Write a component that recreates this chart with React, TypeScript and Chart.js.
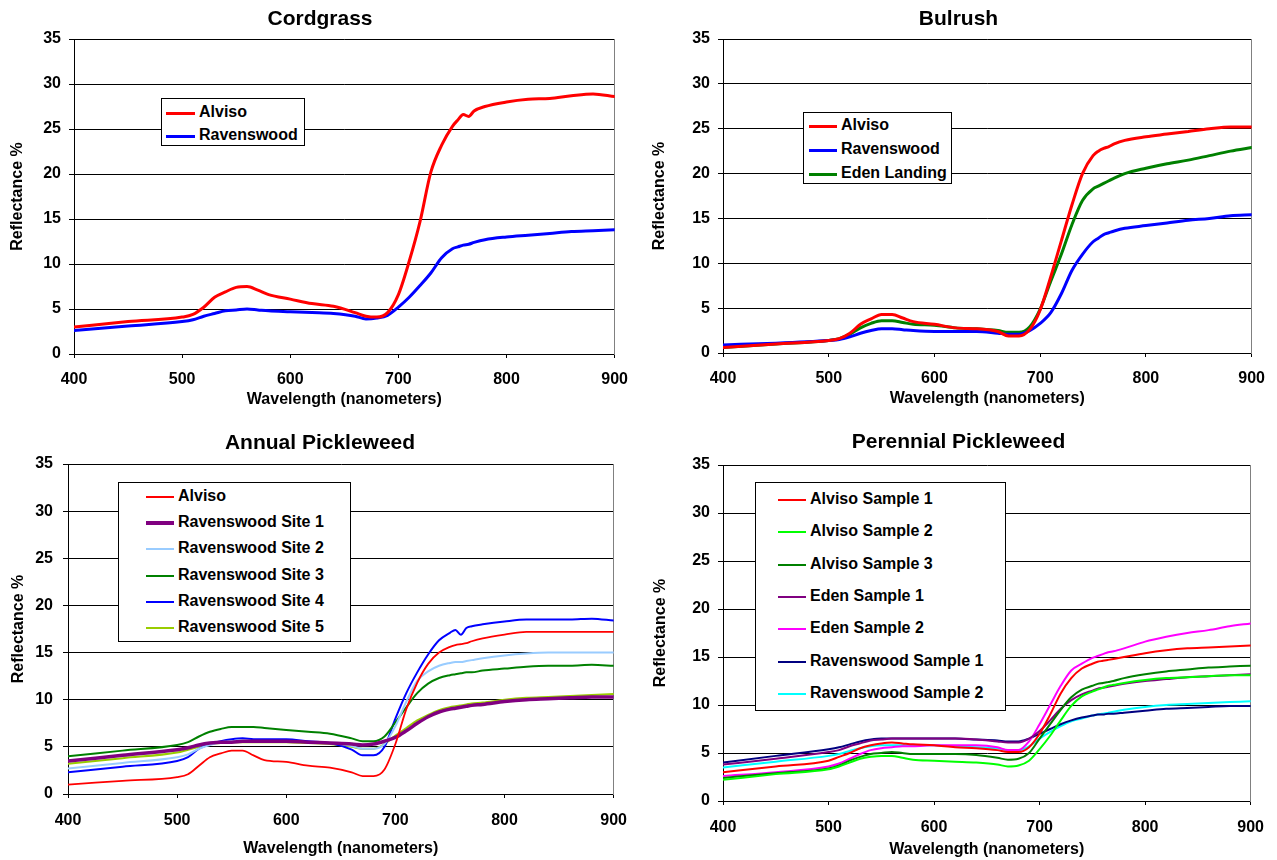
import React, { useEffect, useRef } from 'react';
import { Chart, registerables } from 'chart.js';

Chart.register(...registerables);

const FONT = "'Liberation Sans', Arial, Helvetica, sans-serif";

// Shared wavelength grid (nm)
const wavelengths = [400, 450, 500, 510, 520, 530, 540, 550, 560, 570, 580, 600, 620, 640, 660, 670, 680, 690, 700, 710, 720, 730, 740, 750, 755, 760, 765, 770, 780, 800, 820, 840, 860, 880, 900];

// Cordgrass
const cordAlviso = [3.0, 3.6, 4.1, 4.4, 5.2, 6.3, 6.9, 7.4, 7.5, 7.1, 6.6, 6.1, 5.6, 5.3, 4.6, 4.2, 4.1, 4.6, 6.6, 10.3, 14.7, 20.2, 23.2, 25.3, 26.0, 26.6, 26.4, 27.0, 27.5, 28.0, 28.3, 28.4, 28.7, 28.9, 28.6];
const cordRavenswood = [2.6, 3.1, 3.6, 3.8, 4.2, 4.5, 4.8, 4.9, 5.0, 4.9, 4.8, 4.7, 4.6, 4.5, 4.2, 3.9, 4.0, 4.3, 5.2, 6.3, 7.6, 9.0, 10.7, 11.7, 11.9, 12.1, 12.2, 12.4, 12.7, 13.0, 13.2, 13.4, 13.6, 13.7, 13.8];

// Bulrush
const bulAlviso = [0.6, 1.0, 1.4, 1.6, 2.2, 3.2, 3.8, 4.3, 4.3, 3.9, 3.5, 3.2, 2.8, 2.7, 2.4, 1.9, 1.9, 2.6, 4.8, 8.5, 12.5, 16.5, 20.0, 22.0, 22.5, 22.8, 23.0, 23.3, 23.7, 24.1, 24.4, 24.7, 25.0, 25.2, 25.2];
const bulRavenswood = [0.9, 1.1, 1.4, 1.5, 1.8, 2.2, 2.5, 2.7, 2.7, 2.6, 2.5, 2.4, 2.4, 2.4, 2.2, 2.1, 2.1, 2.5, 3.3, 4.5, 6.6, 9.2, 11.0, 12.4, 12.8, 13.2, 13.4, 13.6, 13.9, 14.2, 14.5, 14.8, 15.0, 15.3, 15.4];
const bulEden = [0.6, 1.0, 1.4, 1.6, 2.1, 2.8, 3.3, 3.6, 3.6, 3.4, 3.2, 3.1, 2.8, 2.7, 2.5, 2.3, 2.3, 2.9, 4.9, 8.0, 11.0, 14.3, 17.0, 18.3, 18.6, 18.9, 19.2, 19.5, 20.0, 20.6, 21.1, 21.5, 22.0, 22.5, 22.9];

// Annual Pickleweed
const annAlviso = [1.0, 1.4, 1.8, 2.1, 3.0, 3.9, 4.3, 4.6, 4.6, 4.1, 3.6, 3.4, 3.0, 2.8, 2.3, 1.9, 1.9, 2.6, 5.3, 9.0, 11.8, 13.8, 15.0, 15.6, 15.8, 15.9, 16.0, 16.2, 16.5, 16.9, 17.2, 17.2, 17.2, 17.2, 17.2];
const annSite1 = [3.5, 4.1, 4.7, 4.9, 5.2, 5.4, 5.5, 5.5, 5.6, 5.6, 5.6, 5.6, 5.5, 5.4, 5.3, 5.2, 5.3, 5.6, 6.0, 6.7, 7.5, 8.2, 8.7, 9.0, 9.1, 9.2, 9.3, 9.4, 9.5, 9.8, 10.0, 10.1, 10.2, 10.3, 10.3];
const annSite2 = [2.7, 3.3, 3.9, 4.2, 4.8, 5.2, 5.5, 5.6, 5.7, 5.6, 5.6, 5.6, 5.5, 5.4, 5.1, 4.8, 4.8, 5.3, 7.2, 9.8, 12.0, 13.0, 13.6, 13.9, 14.0, 14.0, 14.1, 14.2, 14.4, 14.7, 14.9, 15.0, 15.0, 15.0, 15.0];
const annSite3 = [4.0, 4.6, 5.2, 5.5, 6.1, 6.6, 6.9, 7.1, 7.1, 7.1, 7.0, 6.8, 6.6, 6.4, 5.9, 5.6, 5.6, 6.1, 7.6, 9.2, 10.7, 11.7, 12.3, 12.6, 12.7, 12.8, 12.9, 12.9, 13.1, 13.3, 13.5, 13.6, 13.6, 13.7, 13.6];
const annSite4 = [2.3, 2.9, 3.5, 3.9, 4.8, 5.3, 5.6, 5.8, 5.9, 5.8, 5.8, 5.8, 5.6, 5.4, 4.7, 4.1, 4.1, 5.0, 8.0, 10.7, 12.9, 14.8, 16.3, 17.1, 17.4, 16.9, 17.6, 17.8, 18.0, 18.3, 18.5, 18.5, 18.5, 18.6, 18.4];
const annSite5 = [3.2, 3.8, 4.4, 4.7, 5.0, 5.3, 5.4, 5.5, 5.5, 5.5, 5.5, 5.5, 5.4, 5.3, 5.0, 4.8, 4.8, 5.3, 6.2, 7.0, 7.8, 8.4, 8.9, 9.2, 9.3, 9.4, 9.5, 9.6, 9.7, 10.0, 10.2, 10.3, 10.4, 10.5, 10.6];

// Perennial Pickleweed
const perAlviso1 = [3.0, 3.6, 4.2, 4.6, 5.0, 5.5, 5.8, 6.0, 6.1, 6.0, 5.9, 5.8, 5.6, 5.5, 5.3, 5.1, 5.1, 5.6, 7.0, 9.0, 11.2, 12.8, 13.8, 14.3, 14.5, 14.6, 14.7, 14.8, 15.0, 15.4, 15.7, 15.9, 16.0, 16.1, 16.2];
const perAlviso2 = [2.2, 2.8, 3.3, 3.6, 4.0, 4.4, 4.6, 4.7, 4.7, 4.5, 4.3, 4.2, 4.1, 4.0, 3.8, 3.6, 3.7, 4.2, 5.4, 6.8, 8.4, 9.9, 10.9, 11.4, 11.6, 11.8, 12.0, 12.1, 12.3, 12.6, 12.8, 12.9, 13.0, 13.1, 13.1];
const perAlviso3 = [2.4, 2.9, 3.4, 3.7, 4.2, 4.6, 4.9, 5.0, 5.1, 5.0, 4.9, 4.9, 4.9, 4.8, 4.5, 4.3, 4.4, 5.0, 6.5, 8.0, 9.5, 10.8, 11.6, 12.0, 12.2, 12.3, 12.4, 12.5, 12.8, 13.2, 13.5, 13.7, 13.9, 14.0, 14.1];
const perEden1 = [3.8, 4.4, 5.1, 5.3, 5.7, 6.0, 6.3, 6.4, 6.5, 6.5, 6.5, 6.5, 6.5, 6.4, 6.2, 6.1, 6.1, 6.5, 7.3, 8.4, 9.6, 10.5, 11.1, 11.5, 11.7, 11.8, 11.9, 12.0, 12.2, 12.5, 12.7, 12.9, 13.0, 13.1, 13.2];
const perEden2 = [2.6, 3.0, 3.6, 3.9, 4.4, 4.9, 5.3, 5.5, 5.6, 5.7, 5.7, 5.8, 5.8, 5.8, 5.6, 5.3, 5.3, 6.2, 8.0, 10.0, 12.0, 13.6, 14.3, 14.9, 15.1, 15.3, 15.5, 15.6, 15.9, 16.6, 17.1, 17.5, 17.8, 18.2, 18.5];
const perRaven1 = [4.0, 4.7, 5.4, 5.6, 5.9, 6.2, 6.4, 6.5, 6.5, 6.5, 6.5, 6.5, 6.5, 6.4, 6.3, 6.2, 6.2, 6.5, 7.0, 7.5, 8.0, 8.4, 8.7, 8.9, 9.0, 9.0, 9.1, 9.1, 9.2, 9.4, 9.6, 9.7, 9.8, 9.9, 9.9];
const perRaven2 = [3.5, 4.1, 4.7, 4.9, 5.2, 5.5, 5.7, 5.8, 5.8, 5.8, 5.8, 5.8, 5.7, 5.6, 5.5, 5.3, 5.3, 5.7, 6.5, 7.2, 7.8, 8.3, 8.6, 8.9, 9.0, 9.1, 9.2, 9.3, 9.5, 9.8, 10.0, 10.1, 10.2, 10.3, 10.4];

const xMin = 400;
const xMax = 900;
const xStep = 100;
const yMin = 0;
const yMax = 35;
const yStep = 5;
const xAxisTitle = 'Wavelength (nanometers)';
const yAxisTitle = 'Reflectance %';

type Series = { label: string; color: string; width: number; values: number[] };

type LegendCfg = {
  left: number; top: number; width: number; height: number;
  firstRow: number; rowGap: number; swatchLeft: number; swatchWidth: number; textLeft: number;
};

type ChartCfg = {
  title: string;
  box: { x: number; y: number; w: number; h: number };
  yWidth: number; rightWidth: number; xHeight: number; padBottom: number;
  titlePad: { top: number; bottom: number };
  yTitlePad: number; xTickPad: number; yTickPad: number;
  series: Series[];
  legend: LegendCfg;
};

const charts: ChartCfg[] = [
  {
    title: 'Cordgrass',
    box: { x: 0, y: 0, w: 640, h: 420 },
    yWidth: 74, rightWidth: 25, xHeight: 55, padBottom: 11,
    titlePad: { top: 6.6, bottom: 7.2 }, yTitlePad: 7.5, xTickPad: 12, yTickPad: 8,
    series: [
      { label: 'Alviso', color: '#FF0000', width: 3, values: cordAlviso },
      { label: 'Ravenswood', color: '#0000FF', width: 3, values: cordRavenswood },
    ],
    legend: { left: 161, top: 98, width: 144, height: 48, firstRow: 113, rowGap: 23, swatchLeft: 166, swatchWidth: 29, textLeft: 199 },
  },
  {
    title: 'Bulrush',
    box: { x: 640, y: 0, w: 637, h: 420 },
    yWidth: 83, rightWidth: 22, xHeight: 55, padBottom: 12,
    titlePad: { top: 6.6, bottom: 7.2 }, yTitlePad: 9.5, xTickPad: 12, yTickPad: 8,
    series: [
      { label: 'Alviso', color: '#FF0000', width: 3, values: bulAlviso },
      { label: 'Ravenswood', color: '#0000FF', width: 3, values: bulRavenswood },
      { label: 'Eden Landing', color: '#008000', width: 3, values: bulEden },
    ],
    legend: { left: 803, top: 112, width: 149, height: 72, firstRow: 126, rowGap: 24, swatchLeft: 809, swatchWidth: 28, textLeft: 841 },
  },
  {
    title: 'Annual Pickleweed',
    box: { x: 0, y: 420, w: 640, h: 440 },
    yWidth: 68, rightWidth: 25, xHeight: 64, padBottom: 2,
    titlePad: { top: 10.6, bottom: 8.2 }, yTitlePad: 8.5, xTickPad: 13, yTickPad: 10,
    series: [
      { label: 'Alviso', color: '#FF0000', width: 1.8, values: annAlviso },
      { label: 'Ravenswood Site 1', color: '#800080', width: 3.5, values: annSite1 },
      { label: 'Ravenswood Site 2', color: '#99CCFF', width: 2, values: annSite2 },
      { label: 'Ravenswood Site 3', color: '#008000', width: 2, values: annSite3 },
      { label: 'Ravenswood Site 4', color: '#0000FF', width: 2, values: annSite4 },
      { label: 'Ravenswood Site 5', color: '#99CC00', width: 2, values: annSite5 },
    ],
    legend: { left: 118, top: 482, width: 233, height: 160, firstRow: 497, rowGap: 26.2, swatchLeft: 146, swatchWidth: 28, textLeft: 178 },
  },
  {
    title: 'Perennial Pickleweed',
    box: { x: 640, y: 420, w: 637, h: 440 },
    yWidth: 83, rightWidth: 22, xHeight: 58, padBottom: 1,
    titlePad: { top: 9.6, bottom: 10.2 }, yTitlePad: 10.5, xTickPad: 13, yTickPad: 8,
    series: [
      { label: 'Alviso Sample 1', color: '#FF0000', width: 2, values: perAlviso1 },
      { label: 'Alviso Sample 2', color: '#00FF00', width: 2, values: perAlviso2 },
      { label: 'Alviso Sample 3', color: '#008000', width: 2, values: perAlviso3 },
      { label: 'Eden Sample 1', color: '#800080', width: 2, values: perEden1 },
      { label: 'Eden Sample 2', color: '#FF00FF', width: 2, values: perEden2 },
      { label: 'Ravenswood Sample 1', color: '#000080', width: 2, values: perRaven1 },
      { label: 'Ravenswood Sample 2', color: '#00FFFF', width: 2, values: perRaven2 },
    ],
    legend: { left: 755, top: 482, width: 251, height: 229, firstRow: 500, rowGap: 32.3, swatchLeft: 778, swatchWidth: 28, textLeft: 810 },
  },
];

function Legend({ cfg, series, ox, oy }: { cfg: LegendCfg; series: Series[]; ox: number; oy: number }) {
  const rowH = 20;
  return (
    <div
      style={{
        position: 'absolute',
        left: cfg.left - ox,
        top: cfg.top - oy,
        width: cfg.width,
        height: cfg.height,
        boxSizing: 'border-box',
        border: '1px solid #000',
        background: '#fff',
        zIndex: 2,
      }}
    >
      {series.map((s, i) => {
        const cy = cfg.firstRow + i * cfg.rowGap - cfg.top - 1;
        return (
          <React.Fragment key={s.label}>
            <div
              style={{
                position: 'absolute',
                left: cfg.swatchLeft - cfg.left - 1,
                top: cy - s.width / 2,
                width: cfg.swatchWidth,
                height: s.width,
                background: s.color,
              }}
            />
            <div
              style={{
                position: 'absolute',
                left: cfg.textLeft - cfg.left - 1,
                top: cy - rowH / 2,
                height: rowH,
                lineHeight: rowH + 'px',
                font: `bold 16px ${FONT}`,
                color: '#000',
                whiteSpace: 'nowrap',
              }}
            >
              {s.label}
            </div>
          </React.Fragment>
        );
      })}
    </div>
  );
}

function SpectrumChart({ cfg }: { cfg: ChartCfg }) {
  const ref = useRef<HTMLCanvasElement>(null);
  useEffect(() => {
    const canvas = ref.current;
    if (!canvas) return;
    const tickFont = { family: FONT, size: 16, weight: 'bold' as const };
    const titleFont = { family: FONT, size: 16, weight: 'bold' as const, lineHeight: 1.2 };
    const chart = new Chart(canvas, {
      type: 'line',
      data: {
        datasets: cfg.series.map((s) => ({
          label: s.label,
          data: wavelengths.map((x, i) => ({ x, y: s.values[i] })),
          borderColor: s.color,
          backgroundColor: s.color,
          borderWidth: s.width,
          pointRadius: 0,
          pointHoverRadius: 0,
          fill: false,
          cubicInterpolationMode: 'monotone' as const,
          borderJoinStyle: 'round' as const,
          borderCapStyle: 'round' as const,
        })),
      },
      options: {
        animation: false,
        responsive: false,
        maintainAspectRatio: false,
        events: [],
        layout: { padding: { left: 0, top: 0, right: 0, bottom: cfg.padBottom } },
        plugins: {
          legend: { display: false },
          tooltip: { enabled: false },
          title: {
            display: true,
            text: cfg.title,
            color: '#000',
            font: { family: FONT, size: 21, weight: 'bold', lineHeight: 1.2 },
            padding: cfg.titlePad,
          },
        },
        scales: {
          x: {
            type: 'linear',
            min: xMin,
            max: xMax,
            ticks: { stepSize: xStep, color: '#000', font: tickFont, padding: cfg.xTickPad, maxRotation: 0, autoSkip: false },
            grid: { drawOnChartArea: false, drawTicks: true, tickLength: 4, tickColor: '#000', color: '#000' },
            border: { display: true, color: '#000', width: 1 },
            title: { display: true, text: xAxisTitle, color: '#000', font: titleFont, padding: 0 },
            afterFit: (s: any) => { s.height = cfg.xHeight; },
          },
          y: {
            type: 'linear',
            min: yMin,
            max: yMax,
            ticks: { stepSize: yStep, color: '#000', font: tickFont, padding: cfg.yTickPad },
            grid: { color: '#000', lineWidth: 1, drawTicks: true, tickLength: 5, tickColor: '#000' },
            border: { display: true, color: '#000', width: 1 },
            title: { display: true, text: yAxisTitle, color: '#000', font: titleFont, padding: { top: cfg.yTitlePad, bottom: 0 } },
            afterFit: (s: any) => { s.width = cfg.yWidth; },
          },
          y2: {
            type: 'linear',
            position: 'right',
            display: true,
            ticks: { display: false },
            grid: { display: false, drawTicks: false },
            border: { display: true, color: '#808080', width: 1 },
            afterFit: (s: any) => { s.width = cfg.rightWidth; },
          },
        },
      } as any,
    });
    return () => chart.destroy();
  }, [cfg]);

  return (
    <div style={{ position: 'absolute', left: cfg.box.x, top: cfg.box.y, width: cfg.box.w, height: cfg.box.h }}>
      <canvas
        ref={ref}
        width={cfg.box.w}
        height={cfg.box.h}
        style={{ display: 'block', width: cfg.box.w, height: cfg.box.h }}
      />
      <Legend cfg={cfg.legend} series={cfg.series} ox={cfg.box.x} oy={cfg.box.y} />
    </div>
  );
}

export default function App() {
  return (
    <div style={{ position: 'absolute', left: 0, top: 0, width: 1277, height: 860, background: '#fff', overflow: 'hidden' }}>
      {charts.map((c) => (
        <SpectrumChart key={c.title} cfg={c} />
      ))}
    </div>
  );
}
